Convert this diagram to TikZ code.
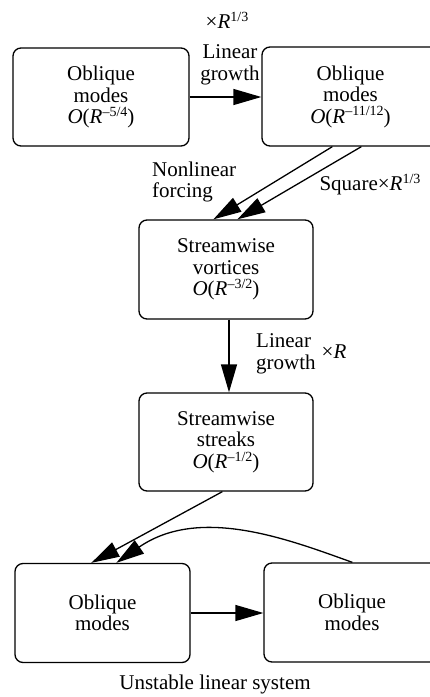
\documentclass[tikz,border=0pt]{standalone}
\usepackage{fontspec}
\setmainfont{Liberation Serif}
\usetikzlibrary{arrows.meta,calc}
\newcommand{\mysup}[1]{\raisebox{0.34em}{\fontsize{14}{14}\selectfont #1}}
\begin{document}
\begin{tikzpicture}[x=1pt,y=-1pt,
  txt/.style={font=\fontsize{21}{21.5}\selectfont, inner sep=0pt},
  box/.style={txt, draw, rounded corners=8pt, line width=1.3pt, align=center},
  conn/.style={line width=1.3pt, -{Triangle[length=28pt,width=16pt]}}]
\useasboundingbox (0,0) rectangle (430,697);
\node[box, minimum width=176pt, minimum height=98pt] (tl) at (101,97) {Oblique\\modes\\\textit{O}(\textit{R}\mysup{–5/4})};
\node[box, minimum width=177pt, minimum height=99pt] (tr) at (350.5,96.5) {Oblique\\modes\\\textit{O}(\textit{R}\mysup{–11/12})};
\node[box, minimum width=174pt, minimum height=99pt] (v) at (226,269.5) {Streamwise\\vortices\\\textit{O}(\textit{R}\mysup{–3/2})};
\node[box, minimum width=174pt, minimum height=98pt] (s) at (226,442) {Streamwise\\streaks\\\textit{O}(\textit{R}\mysup{–1/2})};
\node[box, minimum width=175pt, minimum height=99pt] (bl) at (102.5,613) {Oblique\\modes};
\node[box, minimum width=176pt, minimum height=99pt] (br) at (352,612.5) {Oblique\\modes};

\node[txt] (l1) at (227,20) {×\textit{R}\mysup{1/3}};
\node[txt, align=center] (l2) at (230,65) {Linear\\growth};
\node[txt, align=left, anchor=west] (l3) at (152,182) {Nonlinear\\forcing};
\node[txt] (l4) at (370,185) {Square×\textit{R}\mysup{1/3}};
\node[txt, align=left, anchor=west] (l5) at (256,354) {Linear\\growth};
\node[txt] (l6) at (334,352) {×\textit{R}};
\node[txt] (l7) at (215,684) {Unstable linear system};

\draw[conn] (tl.east) -- (tl.east -| tr.west);
\draw[conn] ($(tr.south west)+(71,0)$) -- ($(v.north west)+(75,0)$);
\draw[conn] ($(tr.south west)+(100,0)$) -- ($(v.north west)+(99,0)$);
\draw[conn] ($(v.south)+(3,0)$) -- ($(s.north)+(3,0)$);
\draw[conn] ($(s.south west)+(84,0)$) -- ($(bl.north west)+(77,0)$);
\draw[conn] ($(br.north west)+(89,0)$) .. controls (290,540) and (200,505) .. ($(bl.north west)+(102,0)$);
\draw[conn] (bl.east) -- (bl.east -| br.west);
\end{tikzpicture}
\end{document}
